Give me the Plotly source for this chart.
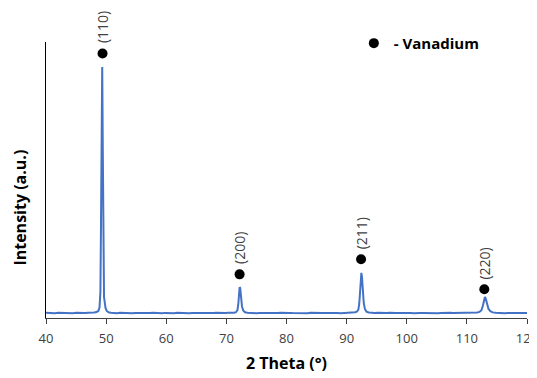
import plotly.graph_objects as go

two_theta = [40.0, 40.5, 41.0, 41.5, 42.0, 42.5, 43.0, 43.5, 44.0, 44.5, 45.0, 45.5,
             46.0, 46.5, 47.0, 47.5, 48.0, 48.4, 48.7, 48.9, 49.05, 49.15, 49.25, 49.35,
             49.45, 49.55, 49.65, 49.75, 49.9, 50.1, 50.4, 50.8, 51.3, 51.8, 52.3, 52.8,
             53.3, 53.8, 54.3, 54.8, 55.3, 55.8, 56.3, 56.8, 57.3, 57.8, 58.3, 58.8,
             59.3, 59.8, 60.3, 60.8, 61.3, 61.8, 62.3, 62.8, 63.3, 63.8, 64.3, 64.8,
             65.3, 65.8, 66.3, 66.8, 67.3, 67.8, 68.3, 68.8, 69.3, 69.8, 70.3, 70.8,
             71.3, 71.6, 71.85, 72.0, 72.1, 72.2, 72.3, 72.45, 72.6, 72.8, 73.1, 73.5,
             74.0, 74.5, 75.0, 75.5, 76.0, 76.5, 77.0, 77.5, 78.0, 78.5, 79.0, 79.5,
             80.0, 80.5, 81.0, 81.5, 82.0, 82.5, 83.0, 83.5, 84.0, 84.5, 85.0, 85.5,
             86.0, 86.5, 87.0, 87.5, 88.0, 88.5, 89.0, 89.5, 90.0, 90.5, 91.0, 91.4,
             91.7, 91.95, 92.1, 92.25, 92.35, 92.45, 92.55, 92.7, 92.85, 93.05, 93.3, 93.7,
             94.2, 94.7, 95.2, 95.7, 96.2, 96.7, 97.2, 97.7, 98.2, 98.7, 99.2, 99.7,
             100.2, 100.7, 101.2, 101.7, 102.2, 102.7, 103.2, 103.7, 104.2, 104.7, 105.2, 105.7,
             106.2, 106.7, 107.2, 107.7, 108.2, 108.7, 109.2, 109.7, 110.2, 110.7, 111.2, 111.7,
             112.1, 112.4, 112.65, 112.8, 112.9, 113.0, 113.15, 113.35, 113.6, 113.9, 114.3, 114.8,
             115.3, 115.8, 116.3, 116.8, 117.3, 117.8, 118.3, 118.8, 119.3, 119.8, 120.0]
intensity = [105, 98, 103, 96, 104, 100, 108, 97, 101, 95, 103, 99,
             102, 98, 106, 104, 108, 118, 140, 210, 520, 1900, 4300, 5000,
             3300, 900, 420, 330, 200, 140, 115, 106, 100, 96, 104, 99,
             97, 102, 95, 100, 98, 103, 96, 101, 99, 104, 97, 100,
             95, 102, 98, 100, 96, 103, 99, 97, 101, 95, 100, 98,
             104, 96, 99, 102, 97, 100, 103, 98, 96, 101, 104, 99,
             106, 115, 160, 300, 480, 610, 600, 430, 230, 150, 115, 104,
             99, 102, 96, 100, 98, 103, 97, 101, 95, 100, 104, 98,
             97, 101, 99, 96, 102, 98, 100, 97, 103, 99, 95, 101,
             98, 100, 104, 97, 99, 102, 96, 100, 103, 98, 107, 114,
             125, 165, 280, 560, 860, 900, 820, 560, 300, 175, 128, 110,
             102, 99, 104, 97, 101, 98, 103, 96, 100, 99, 102, 97,
             101, 98, 96, 103, 99, 100, 97, 102, 98, 101, 96, 100,
             104, 97, 103, 99, 101, 96, 100, 102, 98, 101, 104, 110,
             122, 150, 240, 340, 400, 420, 380, 280, 180, 135, 112, 104,
             99, 102, 97, 101, 98, 100, 103, 97, 100, 98, 100]

# Vanadium reflections: position, marker height, Miller index label
peak_pos = [49.4, 72.2, 92.4, 112.9]
marker_height = [5270, 870, 1170, 572]
hkl_labels = ["(110)", "(200)", "(211)", "(220)"]

x_ticks = [40, 50, 60, 70, 80, 90, 100, 110, 120]

fig = go.Figure()
fig.add_trace(go.Scatter(
    x=two_theta, y=intensity, mode="lines",
    line=dict(color="#4472C4", width=2),
    showlegend=False, hoverinfo="skip"))
fig.add_trace(go.Scatter(
    x=peak_pos, y=marker_height, mode="markers",
    marker=dict(color="black", size=10),
    name="- Vanadium", showlegend=True))

for xp, yp, lab in zip(peak_pos, marker_height, hkl_labels):
    fig.add_annotation(x=xp, y=yp, text=lab, showarrow=False, textangle=-90,
                       yanchor="bottom", xanchor="center", yshift=8,
                       font=dict(family="Open Sans", size=14, color="#404040"))

# y-axis title (placed slightly below the axis centre, as in the reference)
fig.add_annotation(xref="paper", yref="paper", x=0, y=0.40, xshift=-26,
                   xanchor="center", yanchor="middle", textangle=-90, showarrow=False,
                   text="<b>Intensity (a.u.)</b>",
                   font=dict(family="Open Sans", size=16, color="black"))

# page body adds an 8px offset, so the figure is sized 8px smaller
fig.update_layout(
    width=529, height=370,
    margin=dict(l=38, r=10, t=34, b=60, autoexpand=False),
    paper_bgcolor="white", plot_bgcolor="white",
    font=dict(family="Open Sans", color="#595959"),
    legend=dict(x=0.64, y=0.995, xanchor="left", yanchor="middle",
                bgcolor="rgba(0,0,0,0)",
                font=dict(family="Open Sans", size=15, color="black", weight="bold")),
    xaxis=dict(range=[40, 120], tickvals=x_ticks, ticktext=[str(t) for t in x_ticks],
               showgrid=False, zeroline=False, showline=True, linecolor="#404040",
               linewidth=1, ticks="outside", ticklen=5, tickcolor="#404040",
               ticklabeloverflow="allow", automargin=False, ticklabelstandoff=3,
               tickfont=dict(family="Open Sans", size=13, color="#404040"),
               title=dict(text="<b>2 Theta (°)</b>", standoff=12,
                          font=dict(family="Open Sans", size=16, color="black"))),
    yaxis=dict(range=[0, 5500], showticklabels=False, showgrid=False, zeroline=False,
               showline=True, linecolor="black", linewidth=1, ticks="",
               automargin=False),
)

fig.write_html("out.html")
